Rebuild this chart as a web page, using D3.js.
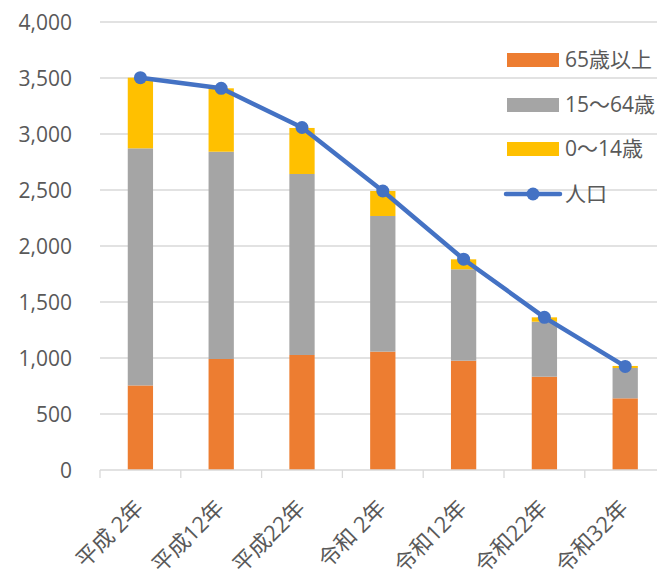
<!DOCTYPE html>
<html>
<head>
<meta charset="utf-8">
<script src="https://cdn.jsdelivr.net/npm/d3@7"></script>
<style>
  body { margin: 0; background: #fff; }
  svg { display: block; }
  text { font-family: "Open Sans", "Noto Sans CJK JP", sans-serif; fill: #595959; }
</style>
</head>
<body>
<div id="chart"></div>
<script>
// 年次
const categories = ["平成 2年", "平成12年", "平成22年", "令和 2年", "令和12年", "令和22年", "令和32年"];
// 年齢区分別人口
const age65 = [755, 991, 1027, 1057, 976, 833, 640];
const age15_64 = [2117, 1851, 1616, 1211, 816, 491, 271];
const age0_14 = [631, 566, 411, 223, 89, 39, 18];
// 総人口
const population = [3503, 3408, 3058, 2491, 1882, 1363, 925];
const yTicks = [0, 500, 1000, 1500, 2000, 2500, 3000, 3500, 4000];

const seriesNames = ["65歳以上", "15〜64歳", "0〜14歳"];
const seriesColors = ["#ed7d31", "#a5a5a5", "#ffc000"];
const lineColor = "#4472c4";

const W = 657, H = 569;
const svg = d3.select("#chart").append("svg")
    .attr("width", W)
    .attr("height", H);

// スケール
const x = d3.scaleBand()
    .domain(categories)
    .range([100, 665.6])
    .padding(0);

const y = d3.scaleLinear()
    .domain([0, 4000])
    .range([470, 22]);

// グリッド線
svg.append("g")
    .selectAll("line")
    .data(yTicks.filter(d => d > 0))
    .enter()
    .append("line")
    .attr("x1", 100)
    .attr("x2", W)
    .attr("y1", d => y(d))
    .attr("y2", d => y(d))
    .attr("stroke", "#d9d9d9")
    .attr("stroke-width", 1.3);

// Y軸
const yAxis = svg.append("g")
    .attr("transform", "translate(72,0)")
    .call(d3.axisLeft(y).tickValues(yTicks).tickSize(0).tickPadding(0).tickFormat(d3.format(",")));
yAxis.select(".domain").remove();
yAxis.selectAll("text")
    .attr("font-size", "21px")
    .attr("font-family", null)
    .attr("fill", null)
    .attr("dy", "0.35em");

// 積み上げデータ
const rows = categories.map((c, i) => ({ cat: c, a: age65[i], b: age15_64[i], c: age0_14[i] }));
const stack = d3.stack().keys(["a", "b", "c"])(rows);

const barW = x.bandwidth() * 0.313;
svg.append("g")
    .selectAll("g")
    .data(stack)
    .enter()
    .append("g")
    .attr("fill", (d, i) => seriesColors[i])
    .selectAll("rect")
    .data(d => d)
    .enter()
    .append("rect")
    .attr("x", d => x(d.data.cat) + x.bandwidth() / 2 - barW / 2)
    .attr("y", d => y(d[1]))
    .attr("width", barW)
    .attr("height", d => y(d[0]) - y(d[1]));

// X軸
const xAxis = svg.append("g")
    .attr("transform", `translate(0,${y(0)})`);
xAxis.append("line")
    .attr("x1", 100)
    .attr("x2", W)
    .attr("stroke", "#d9d9d9")
    .attr("stroke-width", 1.3);
xAxis.selectAll(".tick-mark")
    .data(categories)
    .enter()
    .append("line")
    .attr("class", "tick-mark")
    .attr("x1", d => x(d))
    .attr("x2", d => x(d))
    .attr("y1", 0)
    .attr("y2", 8)
    .attr("stroke", "#d9d9d9")
    .attr("stroke-width", 1.3);
xAxis.selectAll(".cat-label")
    .data(categories)
    .enter()
    .append("text")
    .attr("class", "cat-label")
    .attr("transform", d => `translate(${x(d) + x.bandwidth() / 2 - 1},${34}) rotate(-45)`)
    .attr("text-anchor", "end")
    .attr("dy", "0.35em")
    .attr("font-size", "22px")
    .text(d => d);

// 人口の折れ線
const line = d3.line()
    .x((d, i) => x(categories[i]) + x.bandwidth() / 2)
    .y(d => y(d));

svg.append("path")
    .datum(population)
    .attr("d", line)
    .attr("fill", "none")
    .attr("stroke", lineColor)
    .attr("stroke-width", 4.5)
    .attr("stroke-linejoin", "round");

svg.append("g")
    .selectAll("circle")
    .data(population)
    .enter()
    .append("circle")
    .attr("cx", (d, i) => x(categories[i]) + x.bandwidth() / 2)
    .attr("cy", d => y(d))
    .attr("r", 6.5)
    .attr("fill", lineColor);

// 凡例
const legend = svg.append("g");
const legendY = [60, 105, 149, 194];
seriesNames.forEach((name, i) => {
    legend.append("rect")
        .attr("x", 507)
        .attr("y", legendY[i] - 7)
        .attr("width", 52)
        .attr("height", 14)
        .attr("fill", seriesColors[i]);
    legend.append("text")
        .attr("x", 565)
        .attr("y", legendY[i])
        .attr("dy", "0.35em")
        .attr("font-size", "21px")
        .text(name);
});
legend.append("line")
    .attr("x1", 506)
    .attr("x2", 560)
    .attr("y1", legendY[3])
    .attr("y2", legendY[3])
    .attr("stroke", lineColor)
    .attr("stroke-width", 4.5)
    .attr("stroke-linecap", "round");
legend.append("circle")
    .attr("cx", 533)
    .attr("cy", legendY[3])
    .attr("r", 6.5)
    .attr("fill", lineColor);
legend.append("text")
    .attr("x", 565)
    .attr("y", legendY[3])
    .attr("dy", "0.35em")
    .attr("font-size", "21px")
    .text("人口");
</script>
</body>
</html>
